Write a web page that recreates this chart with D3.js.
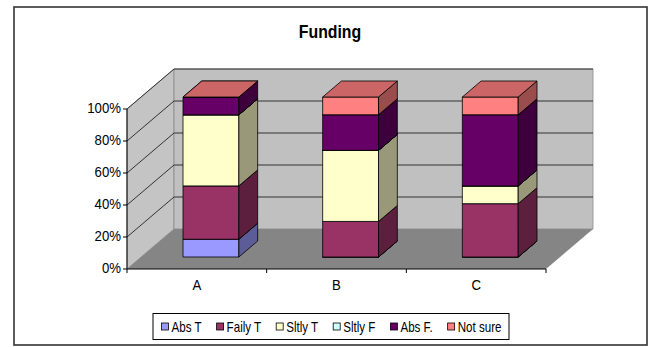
<!DOCTYPE html>
<html>
<head>
<meta charset="utf-8">
<script src="https://cdn.jsdelivr.net/npm/d3@7"></script>
<style>
  html, body { margin: 0; padding: 0; background: #fff; }
  svg { display: block; }
  text { font-family: "Liberation Sans", Arial, sans-serif; fill: #000; }
</style>
</head>
<body>
<svg id="chart" width="654" height="347"></svg>
<script>
// Survey answers per item (respondent counts), shown as 100% stacked columns
const categories = ["A", "B", "C"];
const seriesNames = ["Abs T", "Faily T", "Sltly T", "Sltly F", "Abs F.", "Not sure"];
const absT    = [1, 0, 0];
const failyT  = [3, 2, 3];
const sltlyT  = [4, 4, 1];
const sltlyF  = [0, 0, 0];
const absF    = [1, 2, 4];
const notSure = [0, 1, 1];
const seriesColors = ["#9999FF", "#993366", "#FFFFCC", "#CCFFFF", "#660066", "#FF8080"];
const valueTicks = [0, 0.2, 0.4, 0.6, 0.8, 1];

const seriesValues = [absT, failyT, sltlyT, sltlyF, absF, notSure];
const rows = categories.map((c, i) => {
  const r = { cat: c };
  seriesNames.forEach((s, j) => { r[s] = seriesValues[j][i]; });
  return r;
});
const stacked = d3.stack().keys(seriesNames).offset(d3.stackOffsetExpand)(rows);

const svg = d3.select("#chart");

function label(g, x, y, str, size, anchor, weight, sx) {
  return g.append("text")
    .attr("transform", `translate(${x},${y}) scale(${sx || 0.88},1)`)
    .attr("text-anchor", anchor)
    .attr("font-size", size)
    .attr("font-weight", weight || "normal")
    .text(str);
}

// Outer chart frame
svg.append("rect")
  .attr("x", 14).attr("y", 7).attr("width", 633).attr("height", 338)
  .attr("fill", "#fff").attr("stroke", "#333").attr("stroke-width", 1.6);

// Title
label(svg, 330, 38, "Funding", 18, "middle", "bold");

// 3D projection: front plane scales plus a depth offset
const y = d3.scaleLinear().domain([0, 1]).range([269, 109]);
const x = d3.scaleBand().domain(categories).range([127, 546]);
const DX = 47, DY = -40;
const P = (xf, v, z) => [xf + DX * z, y(v) + DY * z];
const poly = pts => "M" + pts.map(p => p.join(",")).join("L") + "Z";

const x0 = x.range()[0], x1 = x.range()[1];

// Walls and floor
const walls = svg.append("g");
walls.append("path")
  .attr("d", poly([P(x0, 0, 0), P(x0, 1, 0), P(x0, 1, 1), P(x0, 0, 1)]))
  .attr("fill", "#c4c4c4").attr("stroke", "#8a8a8a").attr("stroke-width", 0.8);
walls.append("path")
  .attr("d", poly([P(x0, 1, 1), P(x1, 1, 1), P(x1, 0, 1), P(x0, 0, 1)]))
  .attr("fill", "#c0c0c0").attr("stroke", "#8a8a8a").attr("stroke-width", 0.8);
walls.append("path")
  .attr("d", poly([P(x0, 0, 0), P(x1, 0, 0), P(x1, 0, 1), P(x0, 0, 1)]))
  .attr("fill", "#858585");

// Gridlines on the side and back walls
const grid = svg.append("g").attr("stroke", "#333").attr("stroke-width", 1).attr("fill", "none");
valueTicks.filter(v => v > 0).forEach(v => {
  grid.append("path").attr("d", "M" + P(x0, v, 0) + "L" + P(x0, v, 1) + "L" + P(x1, v, 1));
});

// Value axis
const axis = svg.append("g").attr("stroke", "#000").attr("stroke-width", 1);
axis.append("line").attr("x1", x0).attr("x2", x0).attr("y1", y(0)).attr("y2", y(1));
valueTicks.forEach(v => {
  axis.append("line").attr("x1", x0 - 4).attr("x2", x0).attr("y1", y(v)).attr("y2", y(v));
  label(svg, x0 - 6, y(v) + 4, d3.format(".0%")(v), 15, "end");
});

// Category axis
axis.append("line").attr("x1", x0).attr("x2", x1).attr("y1", y(0)).attr("y2", y(0));
categories.concat([null]).forEach(c => {
  const bx = c === null ? x1 : x(c);
  axis.append("line").attr("x1", bx).attr("x2", bx).attr("y1", y(0)).attr("y2", y(0) + 4);
});
categories.forEach(c => label(svg, x(c) + x.bandwidth() / 2, 290, c, 15, "middle"));

// Shade helper for 3D faces
const shade = (c, f) => { const r = d3.rgb(c); return d3.rgb(r.r * f, r.g * f, r.b * f).toString(); };

// Columns: each segment gets a front, right side and top face, drawn bottom to top
const bars = svg.append("g").attr("stroke", "#000").attr("stroke-width", 0.8).attr("stroke-linejoin", "round");
const Z0 = 0.3, Z1 = 0.7;
const bw = x.bandwidth() * 0.4;
categories.forEach((c, i) => {
  const bx = x(c) + (x.bandwidth() - bw) / 2;
  stacked.forEach((layer, j) => {
    const [v0, v1] = layer[i];
    const col = seriesColors[j];
    bars.append("path")
      .attr("d", poly([P(bx, v0, Z0), P(bx, v1, Z0), P(bx + bw, v1, Z0), P(bx + bw, v0, Z0)]))
      .attr("fill", col);
    bars.append("path")
      .attr("d", poly([P(bx + bw, v0, Z0), P(bx + bw, v1, Z0), P(bx + bw, v1, Z1), P(bx + bw, v0, Z1)]))
      .attr("fill", shade(col, 0.6));
    bars.append("path")
      .attr("d", poly([P(bx, v1, Z0), P(bx + bw, v1, Z0), P(bx + bw, v1, Z1), P(bx, v1, Z1)]))
      .attr("fill", shade(col, 0.8));
  });
});

// Legend
const LSX = 0.8;
const lg = svg.append("g");
lg.append("rect").attr("x", 153).attr("y", 313.5).attr("width", 356).attr("height", 26)
  .attr("fill", "#fff").attr("stroke", "#000").attr("stroke-width", 1);
const items = lg.append("g");
let cx = 0;
seriesNames.forEach((s, j) => {
  items.append("rect").attr("x", cx).attr("y", 323).attr("width", 7).attr("height", 7)
    .attr("fill", seriesColors[j]).attr("stroke", "#000").attr("stroke-width", 0.8);
  const t = label(items, cx + 10, 331.5, s, 14.5, "start", "normal", LSX);
  cx += 10 + t.node().getComputedTextLength() * LSX + 15;
});
const total = cx - 15;
items.attr("transform", `translate(${(153 + 509) / 2 - total / 2 + 0.5},0)`);
</script>
</body>
</html>
